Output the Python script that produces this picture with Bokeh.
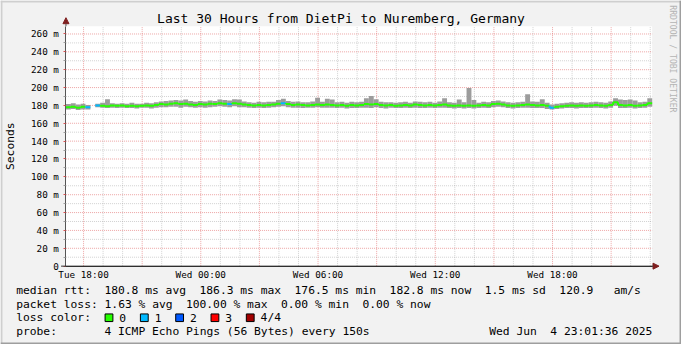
import math
import re
import numpy as np
from bokeh.plotting import figure
from bokeh.models import (Range1d, FixedTicker, Label, Arrow, NormalHead,
                          BoxAnnotation, ColumnDataSource)
from bokeh.embed import file_html
from bokeh.resources import INLINE

nan = float("nan")

# ---------------- data ----------------
START_HOUR = 17.1          # hours after Tue 00:00 at the left edge of the graph
SPAN_HOURS = 30.0
STEP_HOURS = 0.25          # one value per 15 minutes
YMAX = 268.6               # top of the value axis (ms)

median_ms = [
    178.0, 178.5, 177.5, 178.5, 178.0, nan, 180.0, 179.5, 179.0, 180.0,
    179.5, 180.0, 179.0, 179.5, 179.0, 179.5, 180.0, 179.5, 180.5, 181.5,
    181.0, 182.0, 182.5, 181.5, 182.0, 181.0, 180.5, 181.5, 181.0, 182.0,
    181.5, 182.5, 182.0, 181.5, 182.5, 182.0, 181.0, 180.5, 180.0, 180.5,
    180.0, 180.5, 181.0, 182.0, 182.5, 181.5, 180.5, 181.0, 180.5, 180.0,
    180.5, 181.0, 180.5, 181.0, 180.5, 180.0, 180.5, 179.5, 180.5, 180.0,
    180.5, 181.5, 181.0, 181.5, 180.5, 180.0, 180.5, 179.5, 180.0, 180.5,
    180.0, 181.0, 180.5, 180.0, 180.5, 180.0, 180.5, 181.0, 180.0, 179.5,
    180.0, 179.5, 180.0, 179.5, 180.0, 180.5, 180.0, 181.5, 182.0, 181.0,
    180.0, 179.5, 180.0, 180.5, 181.0, 180.5, 180.0, 180.5, 179.5, 177.5,
    178.5, 179.0, 179.5, 180.0, 179.5, 180.0, 179.5, 180.0, 180.5, 180.0,
    179.5, 180.5, 183.5, 180.5, 180.0, 180.5, 179.5, 180.0, 180.5, 182.5,
]
smoke_lo_ms = [
    175.5, 176.0, 175.0, 175.5, 175.5, nan, 178.0, 177.5, 177.0, 177.5,
    177.0, 177.5, 177.0, 177.0, 176.5, 177.5, 177.5, 176.5, 177.5, 178.0,
    178.0, 178.5, 178.5, 177.5, 178.5, 178.0, 177.5, 178.0, 177.5, 178.0,
    178.5, 179.0, 178.5, 178.0, 179.0, 178.0, 178.0, 177.5, 177.0, 177.5,
    177.0, 177.5, 178.0, 178.5, 179.0, 178.0, 177.5, 177.5, 177.0, 177.5,
    177.5, 178.0, 177.5, 177.5, 177.5, 177.0, 177.5, 176.5, 177.0, 177.0,
    177.5, 177.5, 177.0, 178.0, 177.0, 176.5, 177.5, 177.0, 177.0, 177.5,
    177.0, 177.5, 177.0, 177.0, 177.5, 177.0, 177.5, 177.5, 177.0, 176.5,
    177.0, 176.5, 177.0, 176.5, 177.0, 177.5, 177.0, 178.0, 178.5, 178.0,
    177.0, 176.5, 177.0, 177.5, 177.5, 177.0, 177.0, 177.0, 176.0, 175.5,
    176.0, 176.5, 177.0, 177.0, 176.5, 177.0, 177.0, 177.0, 177.5, 177.0,
    176.5, 177.5, 179.5, 177.0, 177.0, 177.5, 176.5, 177.0, 177.5, 178.5,
]
smoke_hi_ms = [
    181.5, 182.5, 181.0, 182.0, 180.5, nan, 182.0, 183.0, 187.0, 182.5,
    182.0, 182.5, 182.0, 183.0, 182.0, 182.0, 183.0, 182.5, 183.5, 184.5,
    185.0, 185.5, 186.0, 185.5, 186.5, 185.0, 184.0, 185.0, 184.5, 185.5,
    185.0, 186.5, 186.0, 185.5, 187.0, 186.5, 184.5, 183.5, 183.0, 184.0,
    183.5, 184.0, 184.0, 186.0, 187.5, 185.0, 184.0, 184.5, 183.5, 183.5,
    184.5, 188.5, 184.0, 187.5, 186.5, 183.5, 184.0, 183.0, 184.0, 183.5,
    184.0, 188.0, 190.5, 187.0, 184.0, 183.5, 183.5, 183.0, 183.5, 184.0,
    183.0, 184.5, 184.0, 183.5, 184.0, 183.0, 184.5, 188.0, 183.5, 183.0,
    186.5, 183.5, 199.5, 186.0, 183.0, 184.0, 183.5, 185.0, 185.5, 184.5,
    183.5, 183.0, 183.5, 184.0, 192.5, 184.5, 184.0, 187.0, 183.0, 181.0,
    182.0, 182.5, 183.0, 183.5, 183.0, 183.5, 183.0, 183.5, 184.0, 183.5,
    183.0, 184.5, 188.0, 186.5, 186.0, 186.5, 185.5, 183.5, 184.0, 188.0,
]
lost_pings = [
    0, 0, 0, 0, 1, 4, 1, 0, 0, 0,
    0, 0, 0, 0, 0, 0, 0, 0, 0, 0,
    0, 0, 0, 0, 0, 0, 0, 0, 0, 0,
    0, 0, 0, 1, 0, 0, 0, 0, 0, 0,
    0, 0, 0, 0, 1, 0, 0, 0, 0, 0,
    0, 0, 0, 0, 0, 0, 0, 0, 0, 0,
    0, 0, 0, 0, 0, 0, 0, 0, 0, 0,
    0, 0, 0, 0, 0, 0, 0, 0, 0, 0,
    0, 0, 0, 0, 0, 0, 0, 0, 0, 0,
    0, 0, 0, 0, 0, 0, 0, 0, 0, 1,
    0, 0, 0, 0, 0, 0, 0, 0, 0, 0,
    0, 0, 0, 0, 0, 0, 0, 0, 0, 0,
]
loss_labels = ["0", "1", "2", "3", "4/4"]
loss_colors = ["#26ff00", "#00b8ff", "#0059ff", "#ff0000", "#a10000"]

y_ticks = [0, 20, 40, 60, 80, 100, 120, 140, 160, 180, 200, 220, 240, 260]
y_tick_labels = ["0", "20 m", "40 m", "60 m", "80 m", "100 m", "120 m", "140 m",
                 "160 m", "180 m", "200 m", "220 m", "240 m", "260 m"]
y_minor = [10, 30, 50, 70, 90, 110, 130, 150, 170, 190, 210, 230, 250]
x_label_hours = [18, 24, 30, 36, 42]
x_tick_labels = ["Tue 18:00", "Wed 00:00", "Wed 06:00", "Wed 12:00", "Wed 18:00"]
x_major_grid_hours = [18, 21, 24, 27, 30, 33, 36, 39, 42, 45]
x_minor_grid_hours = [19, 20, 22, 23, 25, 26, 28, 29, 31, 32, 34, 35, 37, 38,
                      40, 41, 43, 44, 46, 47]

title_text = "Last 30 Hours from DietPi to Nuremberg, Germany"
legend_rtt = "median rtt:  180.8 ms avg  186.3 ms max  176.5 ms min  182.8 ms now  1.5 ms sd  120.9   am/s"
legend_loss = "packet loss: 1.63 % avg  100.00 % max  0.00 % min  0.00 % now"
legend_color = "loss color:"
legend_probe = "probe:       4 ICMP Echo Pings (56 Bytes) every 150s"
legend_date = "Wed Jun  4 23:01:36 2025"

# ---------------- geometry ----------------
W, H = 681, 344                 # canvas (fits the 697x360 window with 8px margins)
REF_W, REF_H = 697, 360         # reference picture size
PLOT_L, PLOT_R, PLOT_T, PLOT_B = 67, 667, 27, 278   # graph area in reference pixels
MONO = "DejaVu Sans Mono"
END_HOUR = START_HOUR + SPAN_HOURS


def X(rx):
    """reference pixel column -> hours"""
    return START_HOUR + (rx - PLOT_L) * SPAN_HOURS / (PLOT_R - PLOT_L)


def Y(ry):
    """reference pixel row -> ms"""
    return (PLOT_B - ry) * YMAX / (PLOT_B - PLOT_T)


p = figure(width=W, height=H, output_backend="svg", toolbar_location=None,
           x_range=Range1d(X(0), X(REF_W)), y_range=Range1d(Y(REF_H), Y(0)),
           title_location=None, min_border=0,
           min_border_left=0, min_border_right=0, min_border_top=0, min_border_bottom=0)
p.border_fill_color = "#f2f2f2"
p.background_fill_color = "#f2f2f2"
p.outline_line_color = None
p.xgrid.visible = False
p.ygrid.visible = False

# shaded picture border (light top/left, dark bottom/right)
for l, r, b, tp, c in [(0, REF_W, 0, 2, "#cfcfcf"), (0, 2, 0, REF_H, "#cfcfcf"),
                       (REF_W - 2, REF_W, 0, REF_H, "#9e9e9e"),
                       (0, REF_W, REF_H - 2, REF_H, "#9e9e9e")]:
    p.add_layout(BoxAnnotation(left=X(l), right=X(r), top=Y(b), bottom=Y(tp),
                               fill_color=c, fill_alpha=1.0, line_color=None,
                               level="image"))

# white graph canvas
p.add_layout(BoxAnnotation(left=START_HOUR, right=END_HOUR, bottom=0, top=YMAX,
                           fill_color="#ffffff", fill_alpha=1.0, line_color=None,
                           level="image"))

# grid lines (minor grey, major red), dotted
p.segment(x0=x_minor_grid_hours, x1=x_minor_grid_hours, y0=0, y1=YMAX,
          line_color="#8F8F8F", line_alpha=0.4, line_dash="1 1", line_width=1)
p.segment(x0=START_HOUR, x1=END_HOUR, y0=y_minor, y1=y_minor,
          line_color="#8F8F8F", line_alpha=0.4, line_dash="1 1", line_width=1)
p.segment(x0=x_major_grid_hours, x1=x_major_grid_hours, y0=0, y1=YMAX,
          line_color="#DE5050", line_alpha=0.5, line_dash="1 1", line_width=1)
p.segment(x0=START_HOUR, x1=END_HOUR, y0=y_ticks[1:], y1=y_ticks[1:],
          line_color="#DE5050", line_alpha=0.5, line_dash="1 1", line_width=1)

# axes placed at fixed data locations
p.yaxis.fixed_location = START_HOUR
p.xaxis.fixed_location = 0
p.yaxis.bounds = (0, YMAX)
p.xaxis.bounds = (START_HOUR, END_HOUR)
p.yaxis.ticker = FixedTicker(ticks=y_ticks, minor_ticks=y_minor)
p.yaxis.major_label_overrides = {t: l for t, l in zip(y_ticks, y_tick_labels)}
p.xaxis.ticker = FixedTicker(ticks=x_label_hours, minor_ticks=[])
p.xaxis.major_label_overrides = {t: l for t, l in zip(x_label_hours, x_tick_labels)}
for ax in (p.xaxis, p.yaxis):
    ax.major_label_text_font = MONO
    ax.major_label_text_font_size = "9.3px"
    ax.major_label_text_color = "#000000"
    ax.axis_line_color = "#303030"
    ax.axis_line_width = 1
p.yaxis.axis_line_color = "#555555"
p.yaxis.major_tick_out = 2
p.yaxis.major_tick_in = 0
p.yaxis.major_tick_line_color = "#DE5050"
p.yaxis.minor_tick_out = 2
p.yaxis.minor_tick_in = 0
p.yaxis.minor_tick_line_color = "#9F9F9F"
p.yaxis.major_label_standoff = 5
p.xaxis.major_tick_out = 0
p.xaxis.major_tick_in = 0
p.xaxis.minor_tick_out = 0
p.xaxis.minor_tick_in = 0
p.xaxis.major_label_standoff = 3

# ---------------- data glyphs ----------------
n = len(median_ms)
t = START_HOUR + STEP_HOURS * (np.arange(n) + 0.5)
med = np.array(median_ms, dtype=float)
lo = np.array(smoke_lo_ms, dtype=float)
hi = np.array(smoke_hi_ms, dtype=float)
ok = ~np.isnan(med)

smoke = ColumnDataSource(dict(left=t[ok] - STEP_HOURS / 2, right=t[ok] + STEP_HOURS / 2,
                              bottom=lo[ok], top=hi[ok]))
p.quad(left="left", right="right", bottom="bottom", top="top", source=smoke,
       fill_color="#9c9c9c", line_color=None)

cols = [loss_colors[k] for k in lost_pings]
hsrc = ColumnDataSource(dict(
    x0=t[ok] - STEP_HOURS / 2, x1=t[ok] + STEP_HOURS / 2, y=med[ok],
    c=[c for c, o in zip(cols, ok) if o]))
p.segment(x0="x0", y0="y", x1="x1", y1="y", source=hsrc, line_color="c", line_width=2)

vx, vy0, vy1, vc = [], [], [], []
for i in range(n - 1):
    if ok[i] and ok[i + 1]:
        vx.append(t[i] + STEP_HOURS / 2)
        vy0.append(med[i])
        vy1.append(med[i + 1])
        vc.append(cols[i + 1])
vsrc = ColumnDataSource(dict(x=vx, y0=vy0, y1=vy1, c=vc))
p.segment(x0="x", y0="y0", x1="x", y1="y1", source=vsrc, line_color="c", line_width=2)

# ---------------- axis arrows ----------------
AXIS_COL = "#303030"
ARROW_COL = "#7F1F1F"
p.add_layout(Arrow(x_start=START_HOUR, y_start=YMAX, x_end=START_HOUR, y_end=Y(18),
                   line_color="#555555", line_width=1,
                   end=NormalHead(size=6, fill_color=ARROW_COL, line_color=ARROW_COL)))
p.add_layout(Arrow(x_start=X(62), y_start=0, x_end=X(674), y_end=0,
                   line_color=AXIS_COL, line_width=1,
                   end=NormalHead(size=6, fill_color=ARROW_COL, line_color=ARROW_COL)))


# ---------------- texts ----------------
def add_text(txt, rx, ry, size, align="left", angle=0.0, color="#000000"):
    p.add_layout(Label(x=X(rx), y=Y(ry), text=txt, text_font=MONO,
                       text_font_size=size, text_align=align, text_baseline="middle",
                       angle=angle, text_color=color))


LEG_FONT = "11.3px"
LEG_X = 16
CH = 6.95           # monospace character width in reference pixels


def add_mono_line(line, ry):
    """place each run of text at its monospace column so runs of spaces are kept"""
    for m in re.finditer(r"\S+(?: \S+)*", line):
        add_text(m.group(0), LEG_X + m.start() * CH, ry, LEG_FONT)


add_text(title_text, 348.5, 19, "13.0px", align="center")
add_text("Seconds", 10, 152.5, LEG_FONT, align="center", angle=math.pi / 2)
add_text("RRDTOOL / TOBI OETIKER", 688, 5, "8.1px", align="left", angle=-math.pi / 2,
         color="#b4b4b4")

add_mono_line(legend_rtt, 303)
add_mono_line(legend_loss, 318)
add_mono_line(legend_color, 332)
add_mono_line(legend_probe, 346)
date_parts = legend_date.split("  ")
date_x0 = 667 - len(legend_date) * CH
add_text(date_parts[0], date_x0, 346, LEG_FONT)
add_text(date_parts[1], date_x0 + (len(date_parts[0]) + 2) * CH, 346, LEG_FONT)

for k, (lab, col) in enumerate(zip(loss_labels, loss_colors)):
    bx = LEG_X + (13.1 + 5.2 * k) * CH
    p.add_layout(BoxAnnotation(left=X(bx), right=X(bx + 8), bottom=Y(336), top=Y(328),
                               fill_color=col, fill_alpha=1.0, line_color="#000000",
                               line_alpha=1.0, line_width=1))
    add_text(lab, bx + 2.1 * CH, 332, LEG_FONT)

open("out.html", "w").write(file_html(p, INLINE))
